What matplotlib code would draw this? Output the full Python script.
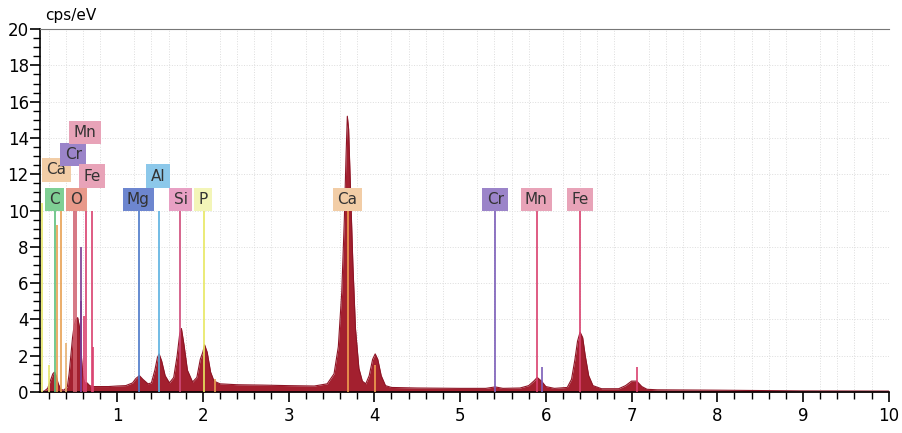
import matplotlib
matplotlib.use('Agg')
import matplotlib.pyplot as plt
from matplotlib.ticker import MultipleLocator

# spectrum (keV, cps/eV)
energy = [0.10, 0.15, 0.19, 0.22, 0.25, 0.27, 0.29, 0.31, 0.34, 0.38, 0.42, 0.44,
          0.46, 0.48, 0.50, 0.52, 0.54, 0.56, 0.58, 0.60, 0.62, 0.65, 0.68, 0.72,
          0.80, 0.90, 1.00, 1.10, 1.18, 1.22, 1.26, 1.30, 1.36, 1.40, 1.44, 1.47,
          1.49, 1.52, 1.56, 1.61, 1.66, 1.70, 1.73, 1.75, 1.78, 1.82, 1.88, 1.93,
          1.97, 2.00, 2.02, 2.05, 2.09, 2.13, 2.20, 2.40, 2.70, 3.00, 3.30, 3.45,
          3.53, 3.58, 3.62, 3.65, 3.67, 3.685, 3.70, 3.72, 3.75, 3.78, 3.82, 3.86,
          3.90, 3.94, 3.98, 4.01, 4.04, 4.08, 4.13, 4.20, 4.50, 5.00, 5.30, 5.41,
          5.50, 5.70, 5.80, 5.86, 5.90, 5.95, 6.00, 6.10, 6.25, 6.30, 6.34, 6.37,
          6.40, 6.43, 6.46, 6.50, 6.55, 6.65, 6.85, 6.93, 7.00, 7.06, 7.12, 7.18,
          7.30, 8.00, 9.00, 10.0]
counts = [0.0, 0.05, 0.2, 0.6, 1.0, 1.1, 0.9, 0.5, 0.15, 0.1, 0.3, 1.0,
          2.0, 3.0, 3.7, 4.0, 4.1, 3.6, 2.2, 0.9, 0.5, 0.5, 0.35, 0.3,
          0.3, 0.3, 0.33, 0.35, 0.5, 0.75, 0.9, 0.7, 0.45, 0.5, 1.2, 1.9,
          2.1, 1.7, 0.9, 0.5, 0.8, 2.0, 3.2, 3.5, 2.6, 1.2, 0.55, 0.8,
          1.8, 2.2, 2.6, 2.2, 1.1, 0.6, 0.45, 0.4, 0.38, 0.35, 0.33, 0.45,
          1.0, 2.5, 5.5, 9.5, 13.0, 15.2, 14.5, 11.5, 7.0, 3.5, 1.3, 0.6,
          0.45, 0.9, 1.8, 2.1, 1.8, 0.9, 0.35, 0.25, 0.22, 0.2, 0.2, 0.28,
          0.2, 0.22, 0.35, 0.6, 0.8, 0.6, 0.3, 0.2, 0.25, 0.7, 1.8, 2.8,
          3.3, 3.0, 2.0, 0.9, 0.35, 0.18, 0.18, 0.35, 0.6, 0.6, 0.3, 0.15,
          0.12, 0.1, 0.06, 0.05]

# element marker lines
line_energy = [0.12, 0.20, 0.277, 0.302, 0.341, 0.40, 0.50, 0.525, 0.573, 0.58,
               0.615, 0.637, 0.705, 0.72, 1.253, 1.486, 1.739, 2.013, 2.14,
               3.69, 4.01, 5.41, 5.95, 5.90, 6.40, 7.06]
line_height = [10.4, 1.5, 10.0, 9.2, 10.0, 2.7, 10.0, 10.0, 8.0, 5.0,
               4.2, 10.0, 10.0, 2.5, 10.1, 10.0, 10.0, 10.0, 0.7,
               10.0, 1.5, 10.0, 1.4, 10.0, 10.0, 1.4]
line_color = ['#e6e66a', '#e6e66a', '#5cbf7a', '#e8a050', '#e8a050', '#e6b070',
              '#d0606e', '#d0606e', '#7a3b8f', '#7a3b8f', '#d9406e', '#d9406e',
              '#d9406e', '#d9406e', '#4a78c8', '#5ab0e0', '#d04a7a', '#e8e860',
              '#e8a050', '#f0a050', '#f0a050', '#7a5cb8', '#7a5cb8', '#d9406e',
              '#d9406e', '#d9406e']

# element label boxes
label_text = ['C', 'O', 'Ca', 'Cr', 'Mn', 'Fe', 'Mg', 'Al', 'Si', 'P',
              'Ca', 'Cr', 'Mn', 'Fe']
label_x = [0.27, 0.523, 0.293, 0.488, 0.626, 0.707, 1.247, 1.477, 1.741, 2.006,
           3.684, 5.41, 5.89, 6.40]
label_y = [10.6, 10.6, 12.25, 13.1, 14.3, 11.9, 10.6, 11.9, 10.6, 10.6,
           10.6, 10.6, 10.6, 10.6]
label_color = ['#7fcf94', '#e8998a', '#f2cda6', '#9b84c9', '#e8a3b8', '#e8a3b8',
               '#6d86cf', '#8cc8ea', '#e8a0c4', '#f3f5b8',
               '#f2cda6', '#9b84c9', '#e8a3b8', '#e8a3b8']

fig = plt.figure(figsize=(9.02, 4.33), dpi=100)
ax = fig.add_axes([0.0443, 0.0947, 0.9410, 0.838])

ax.fill_between(energy, counts, 0, color='#a3202f', lw=0)
ax.plot(energy, counts, color='#8e1526', lw=0.8)
ax.vlines(line_energy, 0, line_height, colors=line_color, lw=1.2, zorder=3)

for t, x, y, c in zip(label_text, label_x, label_y, label_color):
    ax.text(x, y, t, ha='center', va='center', fontsize=11, color='#333333',
            zorder=4, bbox=dict(boxstyle='square,pad=0.28', fc=c, ec='none'))

ax.set_xlim(0.1, 10)
ax.set_ylim(0, 20)
ax.xaxis.set_major_locator(MultipleLocator(1))
ax.xaxis.set_minor_locator(MultipleLocator(0.2))
ax.yaxis.set_major_locator(MultipleLocator(2))
ax.yaxis.set_minor_locator(MultipleLocator(0.5))
ax.tick_params(which='major', length=7, width=1.2, labelsize=12, direction='out')
ax.tick_params(which='minor', length=5, width=1.0, direction='out')
ax.tick_params(axis='y', which='major', pad=1)

ax.grid(which='minor', axis='x', color='#dddddd', ls=':', lw=0.7)
ax.grid(which='major', axis='y', color='#dddddd', ls=':', lw=0.7)
ax.set_axisbelow(True)

ax.spines['right'].set_visible(False)
ax.spines['top'].set_color('#777777')
ax.spines['left'].set_linewidth(1.2)
ax.spines['bottom'].set_linewidth(1.2)

fig.text(0.05, 0.965, 'cps/eV', fontsize=11, ha='left', va='center')

fig.savefig('out.png', dpi=100)
